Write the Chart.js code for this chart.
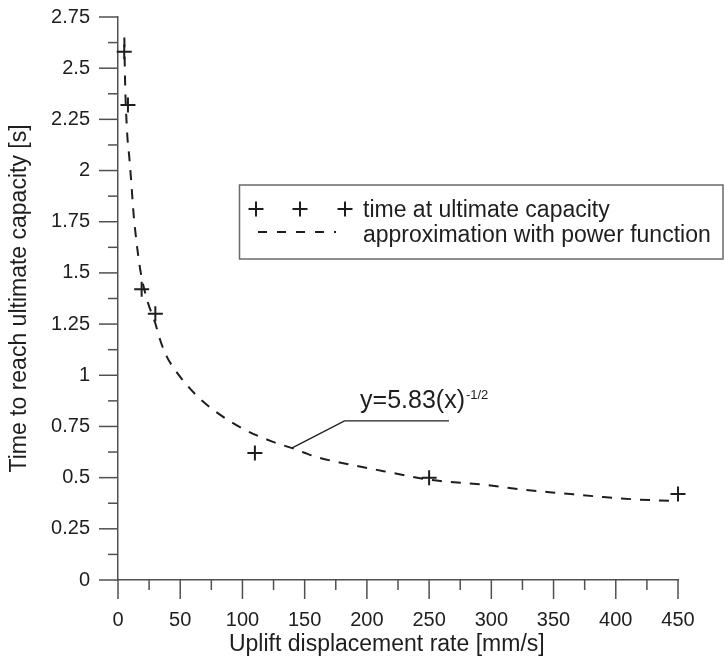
<!DOCTYPE html>
<html>
<head>
<meta charset="utf-8">
<script src="https://cdn.jsdelivr.net/npm/chart.js@4/dist/chart.umd.min.js"></script>
<style>
  html, body { margin: 0; padding: 0; background: #fff; }
</style>
</head>
<body>
<canvas id="chart" width="725" height="660"></canvas>
<script>
const canvas = document.getElementById('chart');

// measured points
const rates = [5, 8, 19, 30, 110, 250, 450];
const times = [2.58, 2.32, 1.42, 1.3, 0.62, 0.5, 0.42];

// fitted curve
const fitRates = [5.1, 5.6, 7.2, 9.3, 10.7, 12.5, 14.7, 17.9, 23.3, 29.9, 34, 39.3, 46, 55, 65, 78, 100, 124, 140, 160, 184, 208, 229, 250, 296, 327, 356, 387, 415, 446];
const fitTimes = [2.65, 2.46, 2.2, 2.05, 1.94, 1.79, 1.66, 1.515, 1.37, 1.255, 1.17, 1.09, 1.025, 0.955, 0.89, 0.825, 0.74, 0.676, 0.644, 0.6, 0.567, 0.538, 0.513, 0.49, 0.464, 0.44, 0.424, 0.407, 0.394, 0.386];

const xTickValues = [0, 50, 100, 150, 200, 250, 300, 350, 400, 450];
const yTickValues = [0, 0.25, 0.5, 0.75, 1, 1.25, 1.5, 1.75, 2, 2.25, 2.5, 2.75];

const seriesLabels = ['time at ultimate capacity', 'approximation with power function'];
const xTitle = 'Uplift displacement rate [mm/s]';
const yTitle = 'Time to reach ultimate capacity [s]';
const fitEquation = 'y=5.83(x)';
const fitExponent = '-1/2';

const fontFamily = '"Liberation Sans", Arial, Helvetica, sans-serif';
const inkColor = '#1e1e1e';
const axisColor = '#505050';

function withMinorTicks(values) {
  const ticks = [];
  values.forEach((v, i) => {
    ticks.push({ value: v, major: true });
    if (i < values.length - 1) {
      ticks.push({ value: (v + values[i + 1]) / 2, major: false });
    }
  });
  return ticks;
}

function tickLabel(value, index, ticks) {
  return ticks[index].major ? String(value) : '';
}

function line(ctx, x1, y1, x2, y2) {
  ctx.beginPath();
  ctx.moveTo(x1, y1);
  ctx.lineTo(x2, y2);
  ctx.stroke();
}

// major and minor tick marks, outside the axes
const tickMarks = {
  id: 'tickMarks',
  afterDraw(chart) {
    const { ctx, scales: { x, y } } = chart;
    ctx.save();
    ctx.strokeStyle = axisColor;
    ctx.lineWidth = 1.5;
    x.ticks.forEach(t => {
      const px = x.getPixelForValue(t.value);
      line(ctx, px, x.top, px, x.top + (t.major ? 19 : 10));
    });
    y.ticks.forEach(t => {
      const py = y.getPixelForValue(t.value);
      line(ctx, y.right - (t.major ? 19 : 10), py, y.right, py);
    });
    ctx.restore();
  },
};

// x title, legend box and the equation label
const extras = {
  id: 'extras',
  afterDraw(chart) {
    const { ctx, scales: { x, y } } = chart;
    ctx.save();

    ctx.fillStyle = inkColor;
    ctx.font = '23px ' + fontFamily;
    ctx.textAlign = 'center';
    ctx.textBaseline = 'middle';
    ctx.fillText(xTitle, x.getPixelForValue(216), 645);

    // legend
    ctx.strokeStyle = '#6a6a6a';
    ctx.lineWidth = 1.5;
    ctx.strokeRect(239.5, 185, 483.5, 74);

    ctx.strokeStyle = inkColor;
    ctx.lineWidth = 2;
    [256, 300, 345].forEach(cx => {
      line(ctx, cx - 7.5, 209, cx + 7.5, 209);
      line(ctx, cx, 201.5, cx, 216.5);
    });
    ctx.setLineDash([9, 10]);
    line(ctx, 258, 232, 336, 232);
    ctx.setLineDash([]);

    ctx.textAlign = 'left';
    ctx.textBaseline = 'alphabetic';
    ctx.fillText(seriesLabels[0], 363, 216.5);
    ctx.fillText(seriesLabels[1], 363, 241.5);

    // leader line to the curve
    ctx.lineWidth = 1.3;
    ctx.beginPath();
    ctx.moveTo(x.getPixelForValue(140), y.getPixelForValue(0.645));
    ctx.lineTo(x.getPixelForValue(182), y.getPixelForValue(0.777));
    ctx.lineTo(x.getPixelForValue(266), y.getPixelForValue(0.777));
    ctx.stroke();

    const tx = x.getPixelForValue(194.5);
    const ty = y.getPixelForValue(0.838);
    ctx.font = '25px ' + fontFamily;
    ctx.fillText(fitEquation, tx, ty);
    const w = ctx.measureText(fitEquation).width;
    ctx.font = '13px ' + fontFamily;
    ctx.fillText(fitExponent, tx + w + 1, ty - 9);

    ctx.restore();
  },
};

new Chart(canvas, {
  type: 'scatter',
  data: {
    datasets: [
      {
        label: seriesLabels[0],
        data: rates.map((r, i) => ({ x: r, y: times[i] })),
        pointStyle: 'cross',
        pointRadius: 7.5,
        pointBorderWidth: 2,
        borderColor: inkColor,
        backgroundColor: inkColor,
        showLine: false,
        clip: false,
      },
      {
        label: seriesLabels[1],
        data: fitRates.map((r, i) => ({ x: r, y: fitTimes[i] })),
        showLine: true,
        pointRadius: 0,
        borderColor: inkColor,
        borderWidth: 2,
        borderDash: [10, 9],
        cubicInterpolationMode: 'monotone',
        clip: false,
      },
    ],
  },
  options: {
    responsive: false,
    animation: false,
    layout: {
      padding: { top: 17, right: 47, left: 0, bottom: 0 },
    },
    plugins: {
      legend: { display: false },
      tooltip: { enabled: false },
    },
    scales: {
      x: {
        type: 'linear',
        min: 0,
        max: 450,
        afterBuildTicks: scale => {
          scale.ticks = withMinorTicks(xTickValues);
        },
        afterFit: scale => {
          scale.height = 80;
        },
        // ticks themselves are drawn by the tickMarks plugin
        grid: { display: false, drawTicks: true, tickLength: 28 },
        border: { display: true, color: axisColor, width: 1.5 },
        ticks: {
          autoSkip: false,
          maxRotation: 0,
          padding: 0,
          color: inkColor,
          font: { family: fontFamily, size: 20 },
          callback: tickLabel,
        },
      },
      y: {
        min: 0,
        max: 2.75,
        afterBuildTicks: scale => {
          scale.ticks = withMinorTicks(yTickValues);
        },
        afterFit: scale => {
          scale.width = 118;
        },
        grid: { display: false, drawTicks: true, tickLength: 28 },
        border: { display: true, color: axisColor, width: 1.5 },
        ticks: {
          autoSkip: false,
          padding: 0,
          color: inkColor,
          font: { family: fontFamily, size: 20 },
          callback: tickLabel,
        },
        title: {
          display: true,
          text: yTitle,
          color: inkColor,
          font: { family: fontFamily, size: 23 },
          padding: { top: 6, bottom: 0 },
        },
      },
    },
  },
  plugins: [tickMarks, extras],
});
</script>
</body>
</html>
